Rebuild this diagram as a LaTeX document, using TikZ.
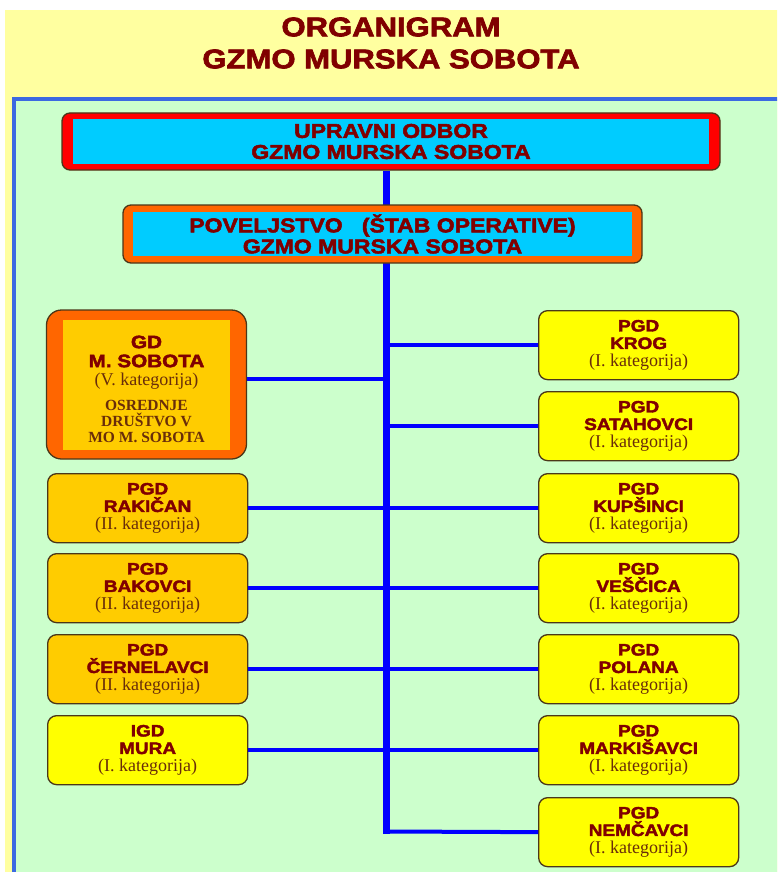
\documentclass[tikz,border=0pt]{standalone}
\usepackage{fontspec}
\setmainfont{Liberation Serif}
\newfontfamily\blk{Liberation Sans Bold}[FakeStretch=1.15,FakeBold=2.5]
\newfontfamily\srf{Liberation Serif}
\usetikzlibrary{calc}
\definecolor{bandyellow}{RGB}{255,255,160}
\definecolor{panelgreen}{RGB}{204,255,204}
\definecolor{frameblue}{RGB}{60,105,225}
\definecolor{linkblue}{RGB}{0,0,255}
\definecolor{boxcyan}{RGB}{0,204,255}
\definecolor{boxred}{RGB}{255,0,0}
\definecolor{boxorange}{RGB}{255,102,0}
\definecolor{gold}{RGB}{255,204,0}
\definecolor{lemon}{RGB}{255,255,0}
\definecolor{maroon}{RGB}{128,0,0}
\definecolor{brownt}{RGB}{105,45,10}
\definecolor{edge}{RGB}{75,55,25}
\newcommand\kat[1]{{\srf\color{brownt}\fontsize{18}{17.5}\selectfont(#1 kategorija)}}
\newcommand\osr[1]{{\srf\bfseries\color{brownt}\fontsize{15.5}{15}\selectfont #1}}
\tikzset{
  unitbox/.style={rectangle, rounded corners=9pt, draw=edge, line width=1.3pt,
    minimum width=200pt, minimum height=69pt, inner sep=0pt, align=center,
    text=maroon, font=\blk\fontsize{16.5}{17.5}\selectfont},
  lemonbox/.style={unitbox, fill=lemon},
  goldbox/.style={unitbox, fill=gold},
  outerframe/.style={rectangle, rounded corners=8pt, draw=edge, line width=1.3pt, inner sep=0pt},
  innerpanel/.style={rectangle, fill=boxcyan, inner sep=0pt, align=center,
    text=maroon, font=\blk\fontsize{20}{21}\selectfont},
  spine/.style={draw=linkblue, line width=7pt},
  link/.style={draw=linkblue, line width=4pt},
  titletext/.style={align=center, text=maroon, font=\blk\fontsize{27}{32}\selectfont}
}
\begin{document}
\begin{tikzpicture}[x=1pt,y=-1pt]
\useasboundingbox (0,0) rectangle (777,872);
\clip (0,0) rectangle (777,872);
\fill[white] (0,0) rectangle (777,872);
\fill[bandyellow] (5,10) rectangle (790,890);
\filldraw[fill=panelgreen, draw=frameblue, line width=4pt] (14,99) rectangle (800,900);
\node[titletext] (title) at (391,43) {ORGANIGRAM\\GZMO MURSKA SOBOTA};

\coordinate (spineEnd) at (386,831.5);

% invisible placeholder marking where the spine starts
\node[outerframe, minimum width=658pt, minimum height=57pt, draw=none] (uo) at (391,141.5) {};

% spine
\draw[spine] (uo.south -| spineEnd) -- ([yshift=-2pt]spineEnd);

\node[outerframe, fill=boxred, minimum width=658pt, minimum height=57pt] (uo2) at (391,141.5) {};
\node[innerpanel, minimum width=636pt, minimum height=44pt] (uot) at (uo2) {UPRAVNI ODBOR\\GZMO MURSKA SOBOTA};
\node[outerframe, fill=boxorange, minimum width=519pt, minimum height=58pt] (pov) at (382.5,234) {};
\node[innerpanel, minimum width=499pt, minimum height=44pt] (povt) at (pov) {POVELJSTVO~~~(ŠTAB OPERATIVE)\\GZMO MURSKA SOBOTA};

% GD M. Sobota
\node[outerframe, rounded corners=15pt, fill=boxorange, minimum width=200pt, minimum height=149pt] (gd) at (146.5,384.5) {};
\node[rectangle, fill=gold, minimum width=167pt, minimum height=130pt, inner sep=0pt] (gdin) at (146.5,385) {};
\node[align=center, text=maroon, font=\blk\fontsize{18}{19}\selectfont, inner sep=0pt] (gdt) at (146.5,389)
  {GD\\M. SOBOTA\\[-1pt]\kat{V.}\\[6pt]\osr{OSREDNJE}\\[-3pt]\osr{DRUŠTVO V}\\[-3pt]\osr{MO M. SOBOTA}};

% left boxes
\node[goldbox, anchor=north west] (rak) at (47,473) {PGD\\RAKIČAN\\\kat{II.}};
\node[goldbox, anchor=north west] (bak) at (47,553) {PGD\\BAKOVCI\\\kat{II.}};
\node[goldbox, anchor=north west] (cer) at (47,634) {PGD\\ČERNELAVCI\\\kat{II.}};
\node[lemonbox, anchor=north west] (mura) at (47,715) {IGD\\MURA\\\kat{I.}};

% right boxes
\node[lemonbox, anchor=north west] (krog) at (538,310) {PGD\\KROG\\\kat{I.}};
\node[lemonbox, anchor=north west] (sat) at (538,391) {PGD\\SATAHOVCI\\\kat{I.}};
\node[lemonbox, anchor=north west] (kup) at (538,473) {PGD\\KUPŠINCI\\\kat{I.}};
\node[lemonbox, anchor=north west] (ves) at (538,553) {PGD\\VEŠČICA\\\kat{I.}};
\node[lemonbox, anchor=north west] (pol) at (538,634) {PGD\\POLANA\\\kat{I.}};
\node[lemonbox, anchor=north west] (mar) at (538,715) {PGD\\MARKIŠAVCI\\\kat{I.}};
\node[lemonbox, anchor=north west] (nem) at (538,797) {PGD\\NEMČAVCI\\\kat{I.}};

% connectors
\draw[link] ([yshift=5.5pt]gd.east) -- ([yshift=5.5pt]gd.east -| spineEnd);
\foreach \n in {rak,bak,cer,mura} {\draw[link] (\n.east) -- (\n.east -| spineEnd);}
\foreach \n in {krog,sat,kup,ves,pol,mar} {\draw[link] (\n.west) -- (\n.west -| spineEnd);}
\draw[link] (nem.west) -- (spineEnd);
\end{tikzpicture}
\end{document}
